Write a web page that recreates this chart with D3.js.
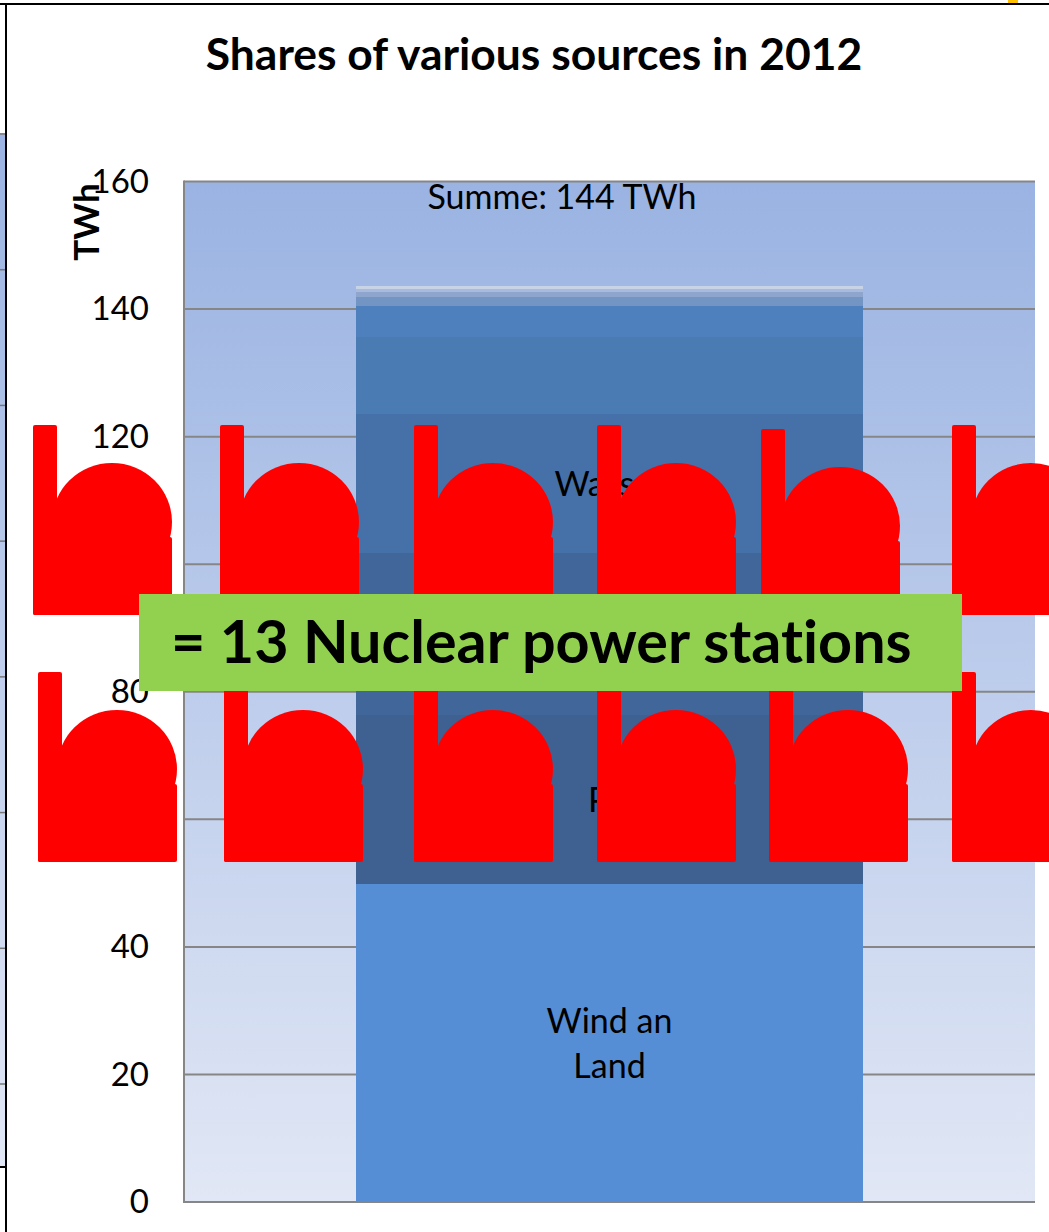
<!DOCTYPE html>
<html><head><meta charset="utf-8">
<script src="https://cdn.jsdelivr.net/npm/d3@7/dist/d3.min.js"></script>
<style>html,body{margin:0;padding:0;background:#fff;overflow:hidden}svg{display:block}text{font-family:Lato,"Open Sans",sans-serif;fill:#000;font-variant-ligatures:none}</style>
</head><body><svg id="c" width="1049" height="1232"></svg>
<script>
const title = "Shares of various sources in 2012";
const categories = ["2012"];
const yTicks = [0,20,40,60,80,100,120,140,160];
const segmentNames = ["Wind an Land","PV","","Wasser","","","","","",""];
const segmentValues = [49.8,26.5,25.4,21.8,12.1,4.9,1.4,0.7,0.5,0.5];
const segmentColors = ["#558ed5","#3e6191","#40669a","#4671a8","#4a7bb3","#4d80bc","#7395c4","#8ea6cd","#a8bbdc","#c9d3e6"];
const totalLabel = "Summe: 144 TWh";
const unitLabel = "TWh";
const calloutLabel = "= 13 Nuclear power stations";
const stationRow1 = [33,220,414,597,761,952];
const stationRow2 = [38,224,414,597,769,952];
const backTicks = [0,1,2,3,4,5,6,7];

const svg = d3.select("#c");
const defs = svg.append("defs");
function grad(id,stops){const g=defs.append("linearGradient").attr("id",id).attr("x1",0).attr("x2",0).attr("y1",0).attr("y2",1);
 stops.forEach(([o,c])=>g.append("stop").attr("offset",o).attr("stop-color",c));}
grad("plotBg",[[0,"#9ab3e2"],[1,"#e1e7f5"]]);
grad("stripBg",[[0,"#9ab3e2"],[1,"#e1e7f5"]]);

const y = d3.scaleLinear().domain([0,160]).range([1202,181.5]);
const x = d3.scaleBand().domain(categories).range([184,1035]).padding(0.2533);

// page frame and the strip of the neighbouring slide chart
svg.append("rect").attr("x",0).attr("y",133).attr("width",5).attr("height",1034).attr("fill","url(#stripBg)");
const strip = d3.scaleLinear().domain([0,7]).range([134,948+136]);
svg.selectAll(".bk").data(backTicks).join("line").attr("x1",0).attr("x2",5)
  .attr("y1",d=>strip(d)).attr("y2",d=>strip(d)).attr("stroke","#777").attr("stroke-width",1.5);
svg.append("line").attr("x1",0).attr("x2",6).attr("y1",1167).attr("y2",1167).attr("stroke","#000").attr("stroke-width",2);
svg.append("rect").attr("x",0).attr("y",1168).attr("width",5).attr("height",64).attr("fill","#fff");
svg.append("rect").attr("x",1008).attr("y",0).attr("width",10).attr("height",3).attr("fill","#ffc000");
svg.append("line").attr("x1",0).attr("x2",1049).attr("y1",4).attr("y2",4).attr("stroke","#000").attr("stroke-width",2);
svg.append("line").attr("x1",6).attr("x2",6).attr("y1",3).attr("y2",1232).attr("stroke","#000").attr("stroke-width",2);

// plot area
svg.append("rect").attr("x",184).attr("y",y(160)).attr("width",851).attr("height",y(0)-y(160)).attr("fill","url(#plotBg)");
svg.selectAll(".grid").data(yTicks).join("line").attr("x1",184).attr("x2",1035)
  .attr("y1",d=>y(d)).attr("y2",d=>y(d)).attr("stroke","#868686").attr("stroke-width",2);
svg.append("line").attr("x1",184).attr("x2",184).attr("y1",y(160)-1).attr("y2",y(0)+1).attr("stroke","#868686").attr("stroke-width",2);

// axis
const axis = d3.axisLeft(y).tickValues(yTicks).tickSize(0).tickPadding(35);
const ax = svg.append("g").attr("transform","translate(184,0)").call(axis);
ax.select(".domain").remove();
ax.selectAll("text").style("font-family","Lato,sans-serif").style("font-size","33px").attr("fill","#000");

// stacked bar
const stacked = segmentValues.map((v,i)=>({v,i,s:d3.sum(segmentValues.slice(0,i))}));
svg.selectAll(".seg").data(stacked).join("rect").attr("x",x("2012")).attr("width",x.bandwidth())
  .attr("y",d=>y(d.s+d.v)).attr("height",d=>y(d.s)-y(d.s+d.v)).attr("fill",d=>segmentColors[d.i])
  .attr("shape-rendering","crispEdges");

const cx = x("2012")+x.bandwidth()/2;
const lab = svg.append("g").attr("text-anchor","middle").style("font-size","34px");
stacked.filter(d=>segmentNames[d.i]==="Wasser"||segmentNames[d.i]==="PV").forEach(d=>{
  lab.append("text").attr("x",cx).attr("y",y(d.s+d.v/2)+12).text(segmentNames[d.i]);
});
lab.append("text").attr("x",cx).attr("y",1033).text("Wind an");
lab.append("text").attr("x",cx).attr("y",1078).text("Land");
lab.append("text").attr("x",562).attr("y",209).text(totalLabel);

svg.append("text").attr("x",534).attr("y",70).attr("text-anchor","middle")
  .style("font-size","44.4px").style("font-weight",700).text(title);
svg.append("text").attr("transform","translate(99,222) rotate(-90)").attr("text-anchor","middle")
  .style("font-size","35px").style("font-weight",700).text(unitLabel);

// nuclear station icons
function station(px,py){
  const g = svg.append("g").attr("transform",`translate(${px},${py})`).attr("fill","#ff0000");
  g.append("rect").attr("width",24).attr("height",190).attr("rx",2);
  g.append("ellipse").attr("cx",79).attr("cy",97).attr("rx",60).attr("ry",59);
  g.append("rect").attr("y",112).attr("width",139).attr("height",78).attr("rx",2);
}
stationRow1.forEach((px,i)=>station(px,i===4?429:425));
stationRow2.forEach(px=>station(px,672));

// callout
svg.append("rect").attr("x",139).attr("y",594).attr("width",823).attr("height",97).attr("fill","#92d050");
svg.append("text").attr("x",171).attr("y",663).style("font-size","59.3px").style("font-weight",700).text(calloutLabel);
</script></body></html>
